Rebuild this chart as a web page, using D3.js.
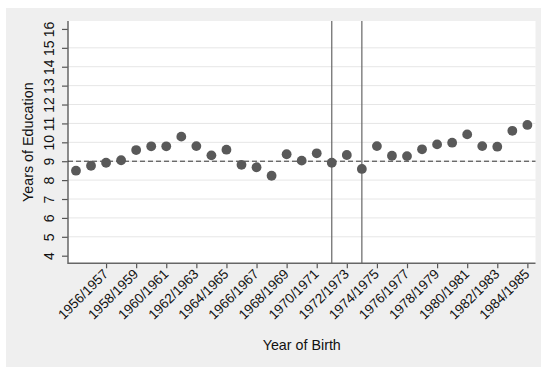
<!DOCTYPE html>
<html>
<head>
<meta charset="utf-8">
<script src="https://cdn.jsdelivr.net/npm/d3@7"></script>
<style>
  html, body { margin: 0; padding: 0; background: #ffffff; }
  svg { display: block; font-family: "Liberation Sans", Arial, sans-serif; }
</style>
</head>
<body>
<svg id="chart" width="541" height="367"></svg>
<script>
// Birth cohorts (x values) and mean years of education per cohort
const cohorts = [1954, 1955, 1956, 1957, 1958, 1959, 1960, 1961, 1962, 1963,
                 1964, 1965, 1966, 1967, 1968, 1969, 1970, 1971, 1972, 1973,
                 1974, 1975, 1976, 1977, 1978, 1979, 1980, 1981, 1982, 1983, 1984];
const education = [8.50, 8.76, 8.92, 9.05, 9.59, 9.79, 9.79, 10.30, 9.80, 9.31,
                   9.61, 8.81, 8.68, 8.23, 9.37, 9.03, 9.42, 8.92, 9.33, 8.59,
                   9.80, 9.29, 9.27, 9.63, 9.89, 9.98, 10.42, 9.80, 9.77, 10.61, 10.92];

// Axis ticks
const xTickYears = [1956, 1958, 1960, 1962, 1964, 1966, 1968, 1970,
                    1972, 1974, 1976, 1978, 1980, 1982, 1984];
const xTickLabels = ["1956/1957", "1958/1959", "1960/1961", "1962/1963", "1964/1965",
                     "1966/1967", "1968/1969", "1970/1971", "1972/1973", "1974/1975",
                     "1976/1977", "1978/1979", "1980/1981", "1982/1983", "1984/1985"];
const yTicks = [4, 5, 6, 7, 8, 9, 10, 11, 12, 13, 14, 15, 16];

// Reference lines
const referenceLevel = 9;
const breakYears = [1971, 1973];

const svg = d3.select("#chart");

// Graph region background
svg.append("rect")
  .attr("x", 6).attr("y", 8)
  .attr("width", 535).attr("height", 359)
  .attr("fill", "#efefef");

const plot = { left: 68, right: 535.5, top: 21, bottom: 263.3 };

svg.append("rect")
  .attr("x", plot.left).attr("y", plot.top)
  .attr("width", plot.right - plot.left).attr("height", plot.bottom - plot.top)
  .attr("fill", "#ffffff");

const x = d3.scaleLinear().domain([1953.47, 1984.54]).range([plot.left, plot.right]);
const y = d3.scaleLinear().domain([3.598, 16.42]).range([plot.bottom, plot.top]);

// Horizontal gridlines (inner ticks only)
svg.append("g")
  .selectAll("line")
  .data(yTicks.slice(1, -1))
  .join("line")
  .attr("x1", plot.left).attr("x2", plot.right)
  .attr("y1", d => y(d)).attr("y2", d => y(d))
  .attr("stroke", "#e6e6e6").attr("stroke-width", 1);

// Y axis
const yAxis = svg.append("g")
  .attr("transform", `translate(${plot.left},0)`)
  .call(d3.axisLeft(y).tickValues(yTicks).tickSize(6).tickPadding(0).tickSizeOuter(0));
yAxis.select(".domain").remove();
yAxis.selectAll(".tick line").attr("stroke", "#555").attr("stroke-width", 1.2);
yAxis.selectAll(".tick text")
  .attr("x", null).attr("dy", null)
  .attr("transform", "translate(-14.5,0) rotate(-90)")
  .attr("text-anchor", "middle")
  .attr("font-size", 14)
  .attr("fill", "#111");
svg.append("line")
  .attr("x1", plot.left).attr("x2", plot.left)
  .attr("y1", plot.top).attr("y2", plot.bottom + 0.7)
  .attr("stroke", "#666").attr("stroke-width", 1.5);

// X axis
const xAxis = svg.append("g")
  .attr("transform", `translate(0,${plot.bottom})`)
  .call(d3.axisBottom(x).tickValues(xTickYears)
    .tickFormat((d, i) => xTickLabels[i]).tickSize(5).tickSizeOuter(0));
xAxis.select(".domain").remove();
xAxis.selectAll(".tick line").attr("stroke", "#555").attr("stroke-width", 1.2);
xAxis.selectAll(".tick text")
  .attr("y", null).attr("dy", null)
  .attr("transform", "translate(2.5,11.5) rotate(-45)")
  .attr("text-anchor", "end")
  .attr("font-size", 13.6)
  .attr("fill", "#111");
svg.append("line")
  .attr("x1", plot.left).attr("x2", plot.right)
  .attr("y1", plot.bottom).attr("y2", plot.bottom)
  .attr("stroke", "#666").attr("stroke-width", 1.5);

// Dashed reference level
svg.append("line")
  .attr("x1", plot.left).attr("x2", plot.right)
  .attr("y1", y(referenceLevel)).attr("y2", y(referenceLevel))
  .attr("stroke", "#333").attr("stroke-width", 1)
  .attr("stroke-dasharray", "5,3");

// Vertical break lines
svg.append("g")
  .selectAll("line")
  .data(breakYears)
  .join("line")
  .attr("x1", d => x(d)).attr("x2", d => x(d))
  .attr("y1", plot.top).attr("y2", plot.bottom)
  .attr("stroke", "#666").attr("stroke-width", 1.2);

// Cohort means
svg.append("g")
  .selectAll("circle")
  .data(cohorts)
  .join("circle")
  .attr("cx", d => x(d))
  .attr("cy", (d, i) => y(education[i]))
  .attr("r", 4.9)
  .attr("fill", "#595959");

// Axis titles
svg.append("text")
  .attr("x", (plot.left + plot.right) / 2).attr("y", 349.5)
  .attr("text-anchor", "middle")
  .attr("font-size", 14.3)
  .attr("fill", "#111")
  .text("Year of Birth");

svg.append("text")
  .attr("transform", `translate(32.5,${(plot.top + plot.bottom) / 2}) rotate(-90)`)
  .attr("text-anchor", "middle")
  .attr("font-size", 14.3)
  .attr("fill", "#111")
  .text("Years of Education");
</script>
</body>
</html>
